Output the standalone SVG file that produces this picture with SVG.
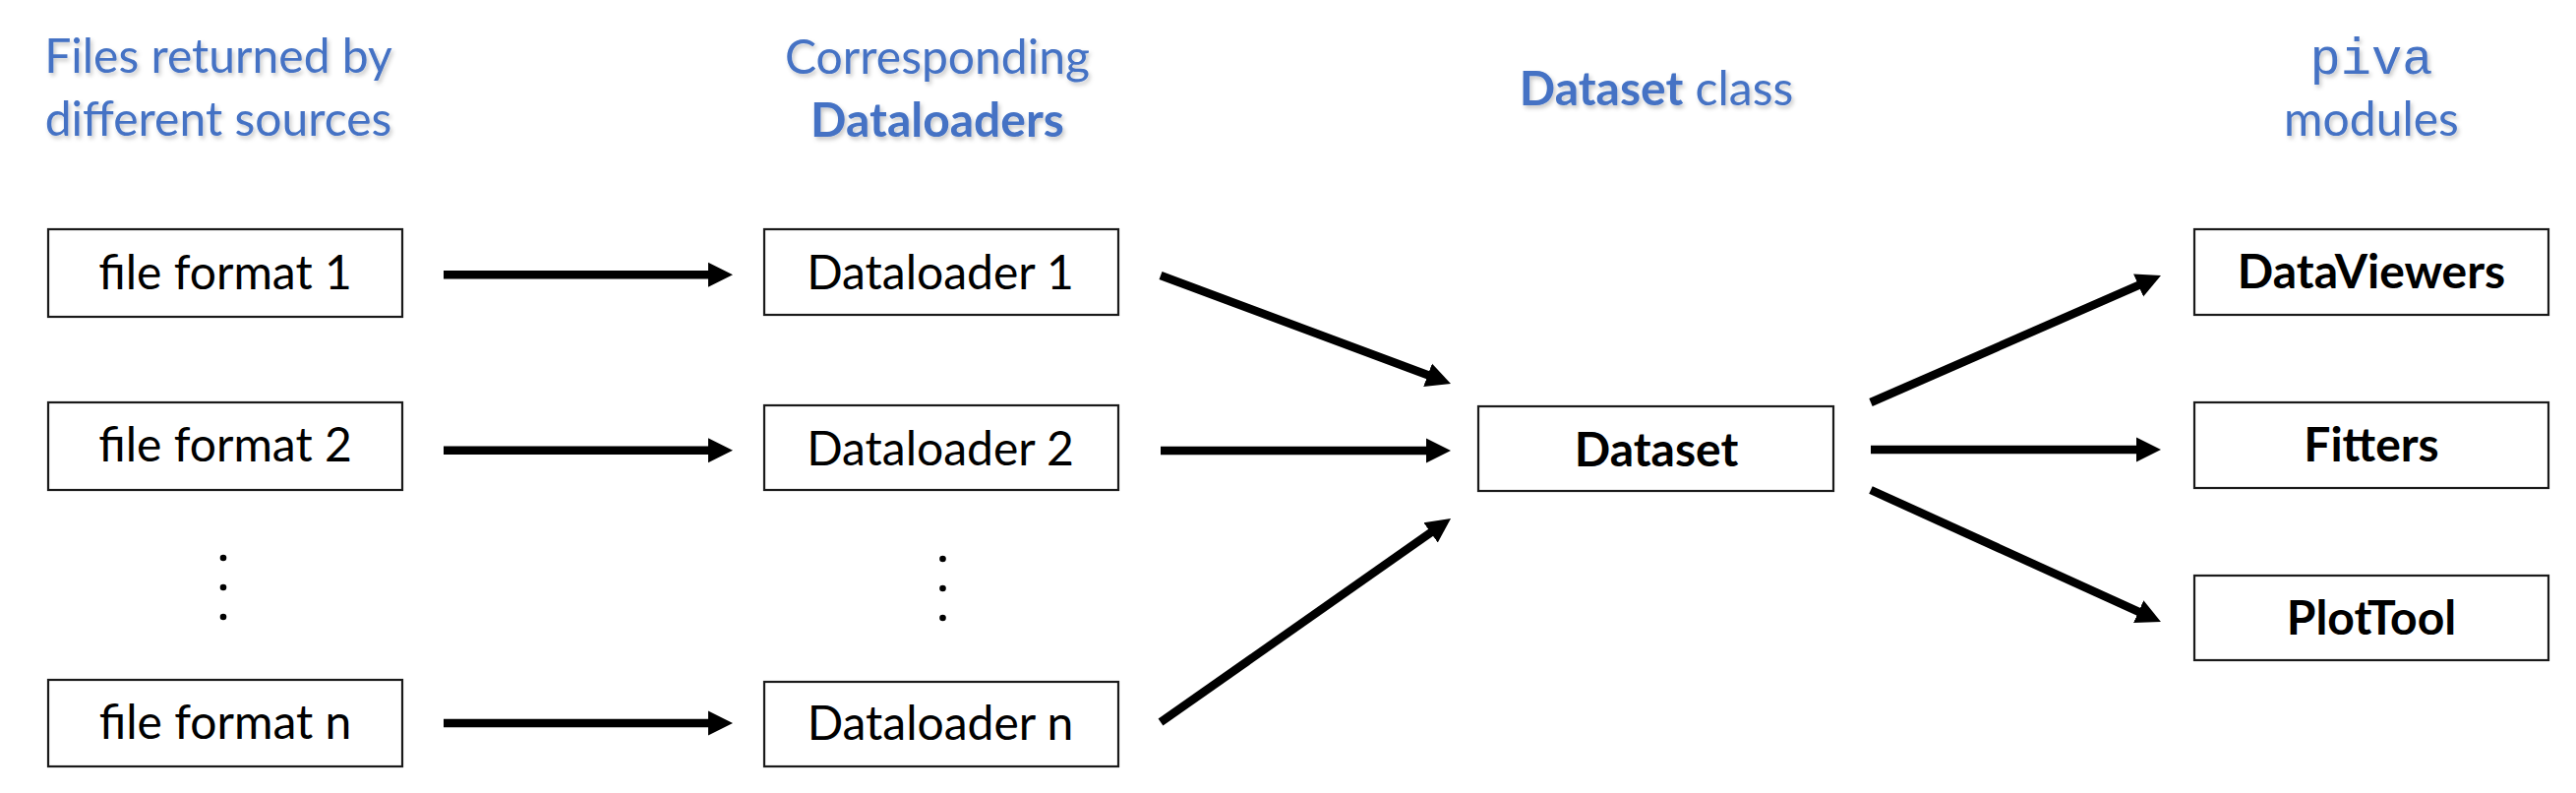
<svg xmlns="http://www.w3.org/2000/svg" width="2619" height="806" viewBox="0 0 2619 806">
  <style>
    .box { fill: #ffffff; stroke: #1a1a1a; stroke-width: 2.2; }
    .lbl { font-family: Lato, "Open Sans", sans-serif; font-size: 48px; fill: #000000; text-anchor: middle; }
    .bold { font-weight: bold; }
    .hdr { font-family: Lato, "Open Sans", sans-serif; font-size: 48px; fill: #4472C4; text-anchor: middle; filter: url(#shadow); }
    .mono { font-family: "Liberation Mono", "Courier New", monospace; font-size: 52px; }
    .conn { stroke: #000000; stroke-width: 8.5; fill: none; stroke-linecap: butt; marker-end: url(#ah); }
    .dot { fill: #000000; }
  </style>
  <defs>
    <marker id="ah" markerUnits="userSpaceOnUse" markerWidth="26" markerHeight="26" viewBox="0 0 26 26" refX="1" refY="13" orient="auto">
      <path d="M0,0.5 L25,13 L0,25.5 Z" fill="#000000"/>
    </marker>
    <filter id="shadow" x="-10%" y="-30%" width="120%" height="160%">
      <feDropShadow dx="2" dy="3" stdDeviation="2" flood-color="#000000" flood-opacity="0.22"/>
    </filter>
  </defs>
  <rect width="2619" height="806" fill="#ffffff"/>

  <g id="headers">
    <text class="hdr" x="222" y="74">Files returned by</text>
    <text class="hdr" x="222" y="138">different sources</text>
    <text class="hdr" x="953" y="75">Corresponding</text>
    <text class="hdr bold" x="953" y="139">Dataloaders</text>
    <text class="hdr" x="1684" y="107"><tspan class="bold">Dataset</tspan> class</text>
    <text class="hdr mono" x="2411" y="75">piva</text>
    <text class="hdr" x="2411" y="138">modules</text>
  </g>

  <g id="connectors">
    <line class="conn" x1="451" y1="279.3" x2="721" y2="279.3"/>
    <line class="conn" x1="451" y1="457.7" x2="721" y2="457.7"/>
    <line class="conn" x1="451" y1="735" x2="721" y2="735"/>
    <line class="conn" x1="1180" y1="280" x2="1452.5" y2="381.6"/>
    <line class="conn" x1="1180" y1="458" x2="1451" y2="458"/>
    <line class="conn" x1="1180" y1="734" x2="1455.4" y2="540.8"/>
    <line class="conn" x1="1902" y1="409" x2="2175" y2="289.6"/>
    <line class="conn" x1="1902" y1="457" x2="2173" y2="457"/>
    <line class="conn" x1="1902" y1="498" x2="2175.1" y2="622.1"/>
  </g>

  <g id="file1">
    <rect class="box" x="49" y="233" width="360" height="89"/>
    <text class="lbl" x="229" y="294">file format 1</text>
  </g>
  <g id="file2">
    <rect class="box" x="49" y="409" width="360" height="89"/>
    <text class="lbl" x="229" y="468.5">file format 2</text>
  </g>
  <g id="file-dots">
    <circle class="dot" cx="227" cy="567" r="3.3"/>
    <circle class="dot" cx="227" cy="597" r="3.3"/>
    <circle class="dot" cx="227" cy="627" r="3.3"/>
  </g>
  <g id="filen">
    <rect class="box" x="49" y="691" width="360" height="88"/>
    <text class="lbl" x="229" y="751">file format n</text>
  </g>

  <g id="loader1">
    <rect class="box" x="777" y="233" width="360" height="87"/>
    <text class="lbl" x="956" y="294">Dataloader 1</text>
  </g>
  <g id="loader2">
    <rect class="box" x="777" y="412" width="360" height="86"/>
    <text class="lbl" x="956" y="472.5">Dataloader 2</text>
  </g>
  <g id="loader-dots">
    <circle class="dot" cx="958.5" cy="568" r="3.3"/>
    <circle class="dot" cx="958.5" cy="598" r="3.3"/>
    <circle class="dot" cx="958.5" cy="628" r="3.3"/>
  </g>
  <g id="loadern">
    <rect class="box" x="777" y="693" width="360" height="86"/>
    <text class="lbl" x="956" y="752">Dataloader n</text>
  </g>

  <g id="dataset">
    <rect class="box" x="1503" y="413" width="361" height="86"/>
    <text class="lbl bold" x="1684" y="474">Dataset</text>
  </g>

  <g id="dataviewers">
    <rect class="box" x="2231" y="233" width="360" height="87"/>
    <text class="lbl bold" x="2411" y="293">DataViewers</text>
  </g>
  <g id="fitters">
    <rect class="box" x="2231" y="409" width="360" height="87"/>
    <text class="lbl bold" x="2411" y="469">Fitters</text>
  </g>
  <g id="plottool">
    <rect class="box" x="2231" y="585" width="360" height="86"/>
    <text class="lbl bold" x="2411" y="645">PlotTool</text>
  </g>
</svg>
